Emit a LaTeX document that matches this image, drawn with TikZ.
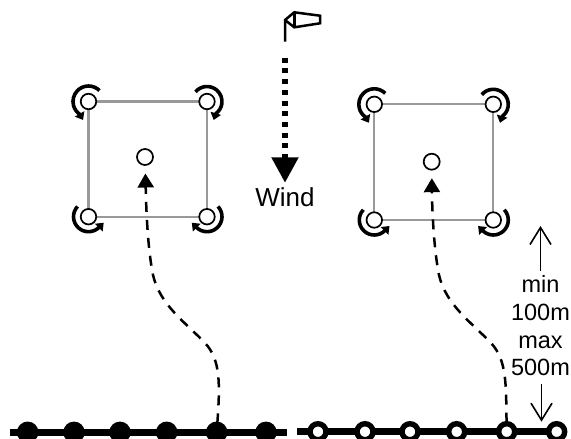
\documentclass[tikz,border=0pt]{standalone}
\usepackage{fontspec}
\setmainfont{Liberation Sans}
\usetikzlibrary{arrows.meta,backgrounds}
\tikzset{
  x=1pt,y=-1pt,
  turbine/.style={circle,draw=black,fill=white,line width=1.7pt,minimum size=15.5pt,inner sep=0pt},
  edgeline/.style={draw=black!40,line width=2.2pt,shorten >=-5pt,shorten <=-5pt},
  spin/.style={line width=3.6pt,line join=round,-{Triangle[length=7pt,width=10.5pt]}},
  filleddot/.style={circle,fill=black,minimum size=21.5pt,inner sep=0pt},
  ringdot/.style={circle,draw=black,fill=white,line width=5.4pt,minimum size=16pt,inner sep=0pt},
  cable/.style={line width=7pt},
  pathline/.style={line width=2.5pt,dash pattern=on 10pt off 8pt,shorten <=9pt,shorten >=16.5pt,-{Triangle[length=14pt,width=16pt]}},
  dimarrow/.style={line width=1.6pt,-{Straight Barb[length=17pt,width=21pt]}},
  sockline/.style={line width=2.5pt,line join=miter},
}
\begin{document}
\begin{tikzpicture}
\clip (0,0) rectangle (571,439);
\useasboundingbox (0,0) rectangle (571,439);
% left array
\node[turbine] (la) at (88.5,101.5) {};
\node[turbine] (lb) at (207,101.5) {};
\node[turbine] (lc) at (88.5,216.7) {};
\node[turbine] (ld) at (207,216.7) {};
\node[turbine,minimum size=16pt] (lm) at (145,157) {};
% right array
\node[turbine] (ra) at (374.3,104.3) {};
\node[turbine] (rb) at (493.3,104.3) {};
\node[turbine] (rc) at (374.3,220) {};
\node[turbine] (rd) at (493.3,220) {};
\node[turbine,minimum size=16pt] (rm) at (431.7,161.7) {};
\begin{scope}[on background layer]
\draw[edgeline] (la.center) -- (lb.center);
\draw[edgeline] (lb.center) -- (ld.center);
\draw[edgeline] (ld.center) -- (lc.center);
\draw[edgeline] (lc.center) -- (la.center);
\draw[edgeline] (ra.center) -- (rb.center);
\draw[edgeline] (rb.center) -- (rd.center);
\draw[edgeline] (rd.center) -- (rc.center);
\draw[edgeline] (rc.center) -- (ra.center);
\end{scope}
% rotation arcs
\foreach \n in {la,ra}{
  \draw[spin] ([shift={(45:15.5pt)}]\n.center) arc[start angle=45,end angle=236,radius=15.5pt] -- ++(-60:6.5pt);}
\foreach \n in {lb,rb}{
  \draw[spin] ([shift={(140:15pt)}]\n.center) arc[start angle=140,end angle=-55,radius=15pt] -- ++(-107:6.5pt);}
\foreach \n in {lc,rc}{
  \draw[spin] ([shift={(137:15pt)}]\n.center) arc[start angle=137,end angle=315,radius=15pt] -- ++(45:6.5pt);}
\foreach \n in {ld,rd}{
  \draw[spin] ([shift={(43:15pt)}]\n.center) arc[start angle=43,end angle=-135,radius=15pt] -- ++(135:6.5pt);}
% cables
\coordinate (cl0) at (10,432.3);
\coordinate (cl1) at (287,432.3);
\coordinate (cr0) at (297,431.7);
\coordinate (cr1) at (566,431.7);
\draw[cable] (cl0) -- (cl1);
\draw[cable] (cr0) -- (cr1);
\foreach \i/\x in {1/27.7,2/74,3/120,4/166.7,5/216.7,6/266}
  \node[filleddot] (f\i) at (\x,432.3) {};
\foreach \i/\x in {1/318,2/365,3/410,4/456.7,5/506.7,6/556.7}
  \node[ringdot] (o\i) at (\x,431.7) {};
% vessel paths
\draw[pathline] (f5.center) .. controls (220,385) and (221,360) .. (205,343)
  .. controls (185,322) and (160,305) .. (153,275)
  .. controls (147,245) and (146,200) .. (lm.center);
\draw[pathline] (o5.center) .. controls (506,385) and (507,360) .. (491,343)
  .. controls (471,322) and (446,305) .. (439,275)
  .. controls (433,245) and (432,200) .. (rm.center);
% windsock
\coordinate (p0) at (285,41.7);
\coordinate (p1) at (285,20);
\coordinate (s1) at (294.3,12.3);
\coordinate (s2) at (320,15.7);
\coordinate (s3) at (320,23.3);
\coordinate (s4) at (294.3,27.3);
\draw[sockline] (p0) -- (p1) -- (s1) -- (s2) -- (s3) -- (s4) -- (p1);
\draw[sockline] (s1) -- (s4);
% wind arrow
\coordinate (w0) at (285,57.7);
\node[font=\fontsize{26}{26}\selectfont,inner sep=0pt] (wind) at (285,197) {Wind};
\coordinate (w1) at (285,182.7);
\draw[line width=5.2pt,dash pattern=on 5pt off 5.7pt,-{Triangle[length=25.4pt,width=26pt]}] (w0) -- (w1);
% distance
\node[font=\fontsize{23.5}{27.7}\selectfont,align=center,inner sep=0pt] (span) at (540.5,326) {min\\100m\\max\\500m};
\coordinate (dtop) at (540.5,226);
\coordinate (dbot) at (541.5,421.7);
\draw[dimarrow] (540.5,270.7) coordinate (ds) -- (dtop);
\draw[dimarrow] (541.5,384) coordinate (de) -- (dbot);
\end{tikzpicture}
\end{document}
